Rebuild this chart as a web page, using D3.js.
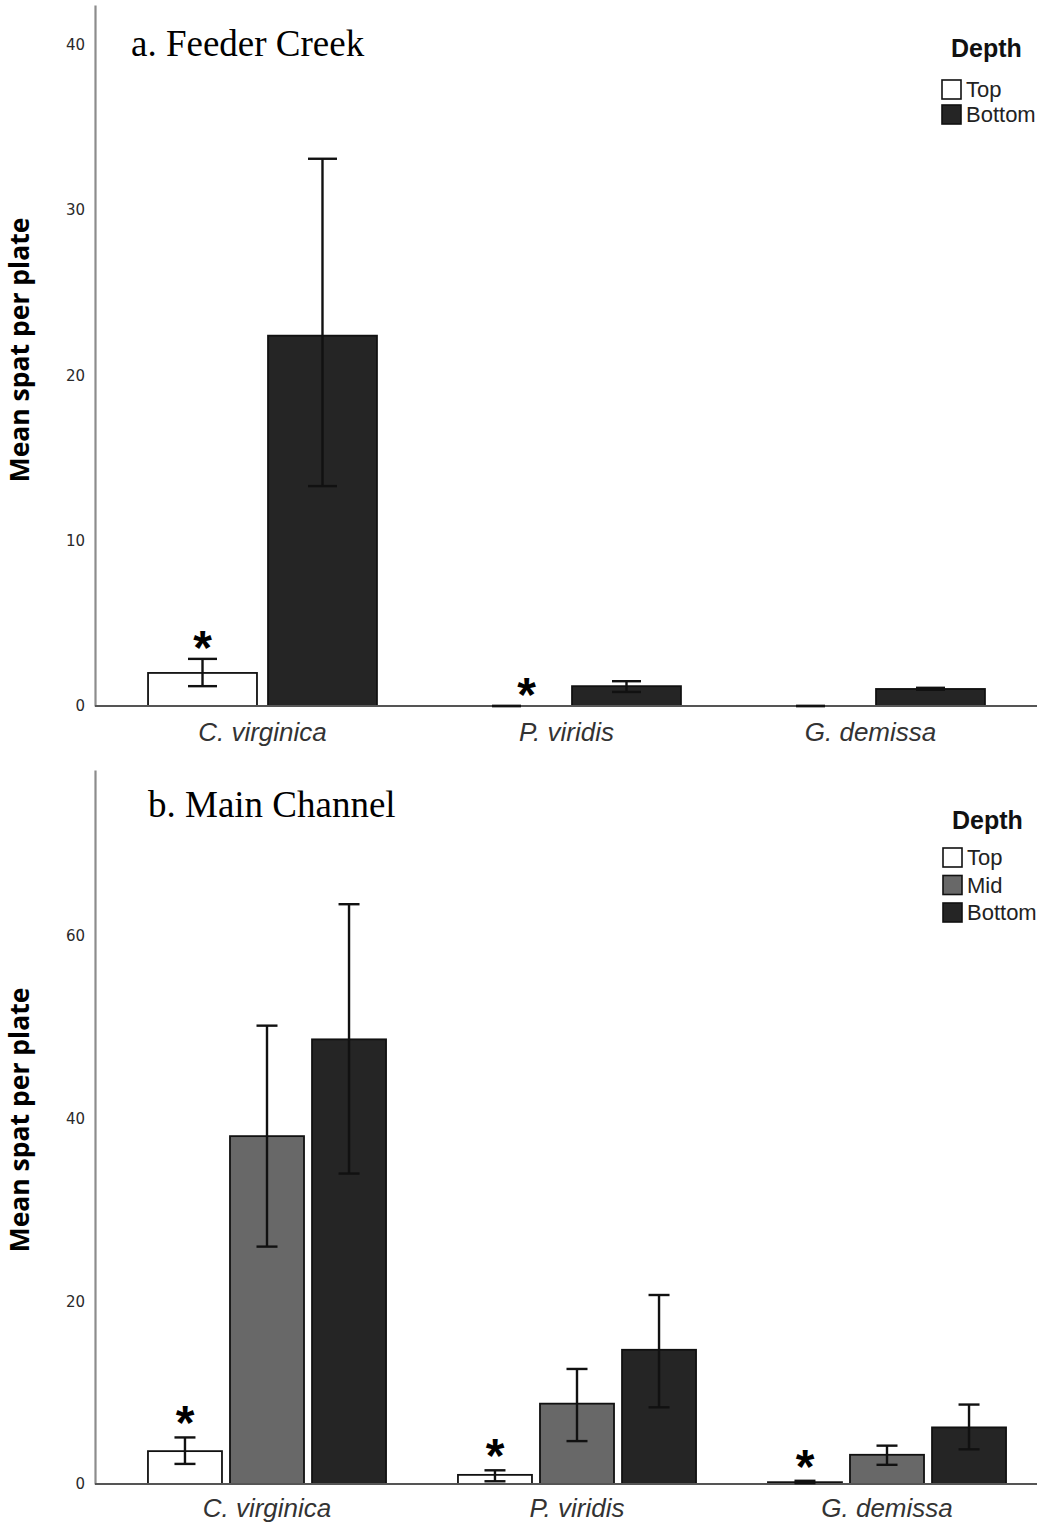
<!DOCTYPE html>
<html>
<head>
<meta charset="utf-8">
<script src="https://cdn.jsdelivr.net/npm/d3@7"></script>
<style>
  html, body { margin: 0; padding: 0; background: #fff; }
  svg { display: block; }
</style>
</head>
<body>
<script>
// Species on the x axis (shared by both panels)
const categories = ["C. virginica", "P. viridis", "G. demissa"];

// a. Feeder Creek: mean spat per plate with error-bar limits
const feederDepths = ["Top", "Bottom"];
const feederTopMean = [2.0, 0, 0];
const feederTopLow = [1.2, 0, 0];
const feederTopHigh = [2.85, 0, 0];
const feederBottomMean = [22.4, 1.2, 1.03];
const feederBottomLow = [13.3, 0.85, 0.98];
const feederBottomHigh = [33.1, 1.5, 1.1];
const feederSignif = [true, true, false];
const feederTicks = [0, 10, 20, 30, 40];

// b. Main Channel
const mainDepths = ["Top", "Mid", "Bottom"];
const mainTopMean = [3.6, 1.0, 0.2];
const mainTopLow = [2.2, 0.3, 0.1];
const mainTopHigh = [5.1, 1.5, 0.35];
const mainMidMean = [38.1, 8.8, 3.2];
const mainMidLow = [26.0, 4.7, 2.1];
const mainMidHigh = [50.2, 12.6, 4.2];
const mainBottomMean = [48.7, 14.7, 6.2];
const mainBottomLow = [34.0, 8.4, 3.8];
const mainBottomHigh = [63.5, 20.7, 8.7];
const mainSignif = [true, true, true];
const mainTicks = [0, 20, 40, 60];

const depthFill = { Top: "#ffffff", Mid: "#686868", Bottom: "#252525" };

const svg = d3.select("body").append("svg")
  .attr("width", 1043).attr("height", 1525);

function buildRows(depths, means, lows, highs) {
  const rows = [];
  categories.forEach((c, i) => {
    depths.forEach((d, j) => {
      rows.push({ cat: c, depth: d, mean: means[j][i], low: lows[j][i], high: highs[j][i] });
    });
  });
  return rows;
}

function drawPanel(cfg) {
  const g = svg.append("g");
  const y = d3.scaleLinear().domain([0, cfg.yMax]).range([cfg.y0, cfg.yTop]);
  const x = d3.scaleBand().domain(categories).range(cfg.xRange)
    .paddingInner(cfg.padIn).paddingOuter(cfg.padIn / 2);
  const xi = d3.scaleBand().domain(cfg.depths).range([0, x.bandwidth()])
    .paddingInner(cfg.barGap);

  // y axis
  const yAxis = g.append("g").attr("transform", `translate(${cfg.axisX},0)`)
    .call(d3.axisLeft(y).tickValues(cfg.ticks).tickSize(0).tickPadding(10).tickFormat(d3.format("d")));
  yAxis.select(".domain").attr("stroke", "#8c8c8c").attr("stroke-width", 2.2);
  yAxis.selectAll("text")
    .attr("font-family", "DejaVu Sans, sans-serif").attr("font-size", 15)
    .attr("fill", "#2a2a2a");

  // y axis title
  g.append("text")
    .attr("transform", `translate(29,${cfg.titleY}) rotate(-90)`)
    .attr("text-anchor", "middle")
    .attr("font-family", "Open Sans, sans-serif").attr("font-weight", 700)
    .attr("font-size", 26.5).attr("fill", "#000")
    .text("Mean spat per plate");

  const rows = buildRows(cfg.depths, cfg.means, cfg.lows, cfg.highs);
  const bx = d => x(d.cat) + xi(d.depth);

  // bars
  g.append("g").selectAll("rect").data(rows).join("rect")
    .attr("x", bx)
    .attr("y", d => y(d.mean))
    .attr("width", xi.bandwidth())
    .attr("height", d => y(0) - y(d.mean))
    .attr("fill", d => depthFill[d.depth])
    .attr("stroke", "#111").attr("stroke-width", 1.8);

  // baseline
  g.append("line")
    .attr("x1", cfg.axisX).attr("x2", cfg.baseEnd)
    .attr("y1", y(0)).attr("y2", y(0))
    .attr("stroke", "#555").attr("stroke-width", 2);

  // error bars
  const eb = g.append("g").attr("stroke", "#111").attr("stroke-width", 2.4);
  const cx = d => bx(d) + xi.bandwidth() / 2;
  eb.selectAll("line.v").data(rows).join("line").attr("class", "v")
    .attr("x1", cx).attr("x2", cx)
    .attr("y1", d => y(d.low)).attr("y2", d => y(d.high));
  eb.selectAll("line.hi").data(rows).join("line").attr("class", "hi")
    .attr("x1", d => cx(d) - cfg.cap / 2).attr("x2", d => cx(d) + cfg.cap / 2)
    .attr("y1", d => y(d.high)).attr("y2", d => y(d.high));
  eb.selectAll("line.lo").data(rows).join("line").attr("class", "lo")
    .attr("x1", d => cx(d) - cfg.cap / 2).attr("x2", d => cx(d) + cfg.cap / 2)
    .attr("y1", d => y(d.low)).attr("y2", d => y(d.low));

  // significance markers above the Top bars
  const tops = rows.filter(d => d.depth === "Top");
  g.append("g").selectAll("text").data(tops.filter((d, i) => cfg.signif[i])).join("text")
    .attr("x", d => cx(d) + cfg.starNudge[categories.indexOf(d.cat)])
    .attr("y", d => y(Math.max(d.high, d.mean)) - cfg.starGap + 27)
    .attr("text-anchor", "middle")
    .attr("font-family", "Liberation Sans, Arial, sans-serif").attr("font-weight", 700)
    .attr("font-size", 48).attr("fill", "#000")
    .text("*");

  // x axis labels
  const xAxis = g.append("g").attr("transform", `translate(0,${y(0)})`)
    .call(d3.axisBottom(x).tickSize(0).tickPadding(cfg.xPad));
  xAxis.select(".domain").remove();
  xAxis.selectAll("text")
    .attr("font-family", "Liberation Sans, Arial, sans-serif").attr("font-style", "italic")
    .attr("font-size", 26).attr("fill", "#333");

  // panel title
  g.append("text").attr("x", cfg.title[1]).attr("y", cfg.title[2])
    .attr("font-family", "Liberation Serif, Times New Roman, serif")
    .attr("font-size", 37).attr("fill", "#000").text(cfg.title[0]);

  // legend
  const lg = g.append("g");
  lg.append("text").attr("x", cfg.legX + 9).attr("y", cfg.legY)
    .attr("font-family", "Liberation Sans, Arial, sans-serif").attr("font-weight", 700)
    .attr("font-size", 25).attr("fill", "#111").text("Depth");
  cfg.depths.forEach((d, i) => {
    const yy = cfg.legY + cfg.legFirst + i * cfg.legStep;
    lg.append("rect").attr("x", cfg.legX).attr("y", yy)
      .attr("width", 19).attr("height", 19)
      .attr("fill", depthFill[d]).attr("stroke", "#111").attr("stroke-width", 1.6);
    lg.append("text").attr("x", cfg.legX + 24).attr("y", yy + 17)
      .attr("font-family", "Liberation Sans, Arial, sans-serif")
      .attr("font-size", 22).attr("fill", "#222").text(d);
  });
}

drawPanel({
  depths: feederDepths,
  means: [feederTopMean, feederBottomMean],
  lows: [feederTopLow, feederBottomLow],
  highs: [feederTopHigh, feederBottomHigh],
  signif: feederSignif,
  ticks: feederTicks,
  yMax: 42.4, y0: 706, yTop: 5,
  axisX: 95, baseEnd: 1037,
  xRange: [110.5, 1022.5], padIn: 0.247, barGap: 0.092,
  cap: 29, starGap: 22, starNudge: [0, 20, 0], xPad: 16.5,
  titleY: 350,
  title: ["a. Feeder Creek", 131, 56],
  legX: 942, legY: 57, legFirst: 23, legStep: 25
});

drawPanel({
  depths: mainDepths,
  means: [mainTopMean, mainMidMean, mainBottomMean],
  lows: [mainTopLow, mainMidLow, mainBottomLow],
  highs: [mainTopHigh, mainMidHigh, mainBottomHigh],
  signif: mainSignif,
  ticks: mainTicks,
  yMax: 78.2, y0: 1484, yTop: 770,
  axisX: 95, baseEnd: 1037,
  xRange: [112, 1042], padIn: 0.232, barGap: 0.0976,
  cap: 21, starGap: 25, starNudge: [0, 0, 0], xPad: 14.5,
  titleY: 1120,
  title: ["b. Main Channel", 148, 817],
  legX: 943, legY: 829, legFirst: 19, legStep: 27.5
});
</script>
</body>
</html>
